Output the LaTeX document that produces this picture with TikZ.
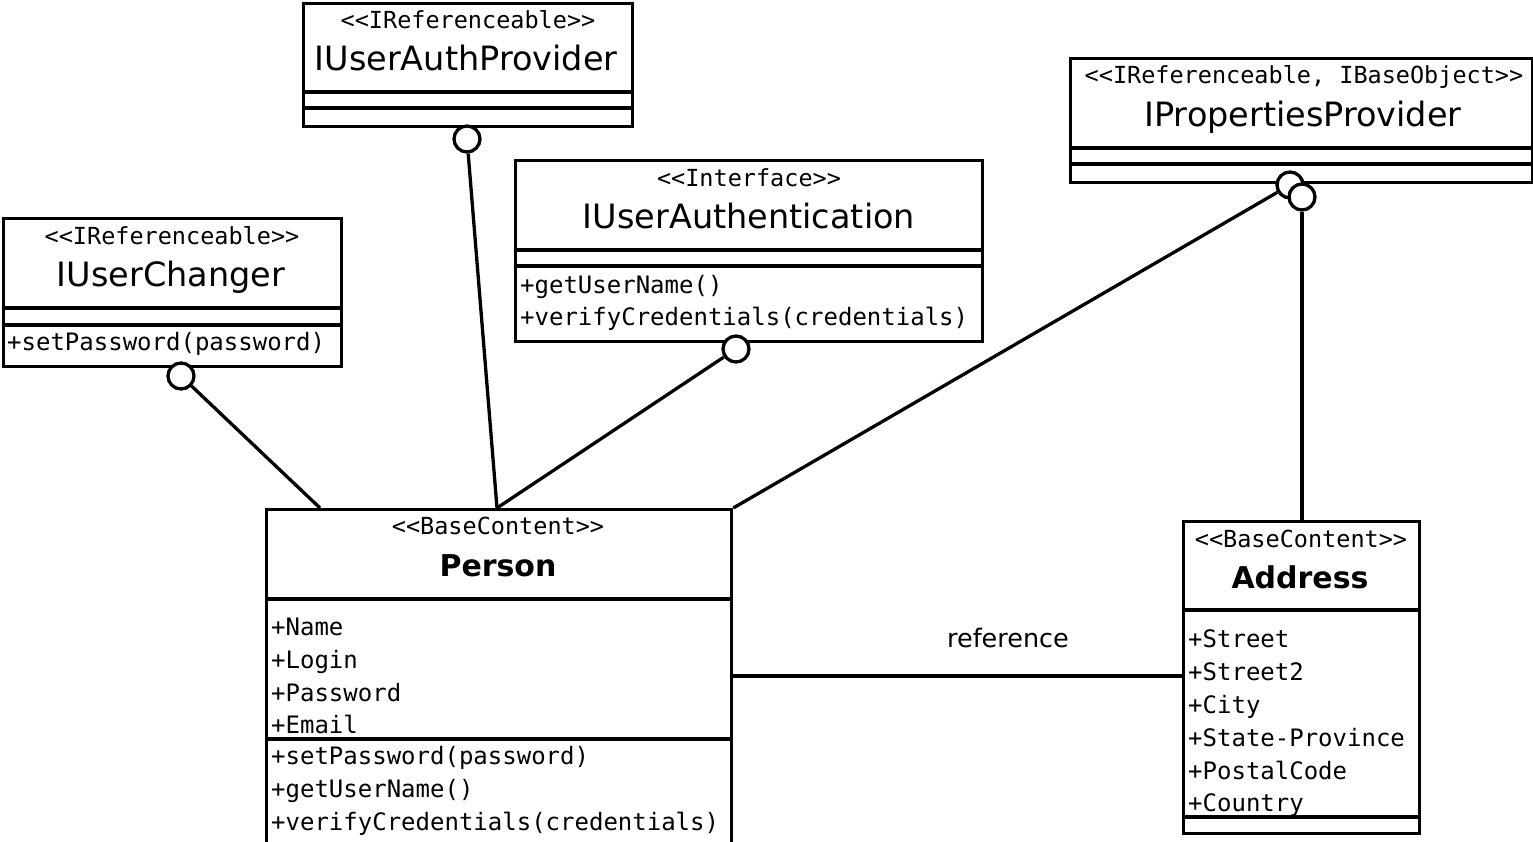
\documentclass[tikz,border=0pt]{standalone}
\usepackage{fontspec}
\newfontfamily\titlef{DejaVu Sans}
\newfontfamily\monof{DejaVu Sans Mono}
\begin{document}
\begin{tikzpicture}[x=1pt,y=-1pt,
  box/.style={draw, line width=3.3pt, inner sep=0pt, anchor=north west},
  sep/.style={line width=3.3pt},
  conn/.style={line width=3.3pt},
  lolli/.style={circle, draw, fill=white, line width=3.3pt, minimum size=26pt, inner sep=0pt},
  txt/.style={inner sep=0pt, text depth=0pt},
  stereo/.style={txt, text height=17.1pt, font=\monof\fontsize{23.5}{23.5}\selectfont},
  title/.style={txt, text height=24.4pt, font=\titlef\fontsize{33.5}{33.5}\selectfont},
  btitle/.style={txt, text height=21.9pt, font=\titlef\bfseries\fontsize{30}{30}\selectfont},
  member/.style={txt, text height=17.5pt, anchor=west, font=\monof\fontsize{24}{24}\selectfont},
  lbl/.style={txt, text height=18.6pt, font=\titlef\fontsize{25.5}{25.5}\selectfont}]
\useasboundingbox (0,0) rectangle (1533,842);
\clip (0,0) rectangle (1533,842);

% ---- boxes
\node[box, minimum width=329pt, minimum height=123pt] (uap) at (302,2) {};
\node[box, minimum width=338pt, minimum height=148pt] (uc) at (2,217) {};
\node[box, minimum width=467pt, minimum height=181pt] (ua) at (514,159) {};
\node[box, minimum width=462pt, minimum height=124pt] (pp) at (1069,57) {};
\node[box, minimum width=465pt, minimum height=352pt] (person) at (265,508) {};
\node[box, minimum width=236pt, minimum height=312pt] (addr) at (1182,520) {};

% ---- compartment lines
\foreach \b/\d in {uap/90, uap/106, uc/91, uc/108, ua/91, ua/107, pp/91, pp/107, person/91, person/231, addr/90, addr/297}{
  \draw[sep] ([yshift=-\d pt]\b.north west) -- ([yshift=-\d pt]\b.north east);
}

% ---- texts
\node[stereo] (uap-s) at (468,20) {<<IReferenceable>>};
\node[title] (uap-t) at (466,58) {IUserAuthProvider};

\node[stereo] (uc-s) at (172,236) {<<IReferenceable>>};
\node[title] (uc-t) at (171,274) {IUserChanger};
\node[member] (uc-m1) at (7,342) {+setPassword(password)};

\node[stereo] (ua-s) at (749,178) {<<Interface>>};
\node[title] (ua-t) at (749,216) {IUserAuthentication};
\node[member] (ua-m1) at (520,285) {+getUserName()};
\node[member] (ua-m2) at (520,317) {+verifyCredentials(credentials)};

\node[stereo] (pp-s) at (1304,75) {<<IReferenceable, IBaseObject>>};
\node[title] (pp-t) at (1303,114) {IPropertiesProvider};

\node[stereo] (person-s) at (498,526) {<<BaseContent>>};
\node[btitle] (person-t) at (498,566) {Person};
\node[member] (person-a1) at (271,627) {+Name};
\node[member] (person-a2) at (271,660) {+Login};
\node[member] (person-a3) at (271,693) {+Password};
\node[member] (person-a4) at (271,725) {+Email};
\node[member] (person-m1) at (271,756) {+setPassword(password)};
\node[member] (person-m2) at (271,789) {+getUserName()};
\node[member] (person-m3) at (271,822) {+verifyCredentials(credentials)};

\node[stereo] (addr-s) at (1301,539) {<<BaseContent>>};
\node[btitle] (addr-t) at (1300,578) {Address};
\node[member] (addr-a1) at (1188,639) {+Street};
\node[member] (addr-a2) at (1188,672) {+Street2};
\node[member] (addr-a3) at (1188,705) {+City};
\node[member] (addr-a4) at (1188,738) {+State-Province};
\node[member] (addr-a5) at (1188,771) {+PostalCode};
\node[member] (addr-a6) at (1188,803) {+Country};

% ---- lollipops
\node[lolli] (c-uap) at (467,139) {};
\node[lolli] (c-uc) at (181,376) {};
\node[lolli] (c-ua) at (736,349) {};
\node[lolli] (c-pp1) at (1290,185) {};
\node[lolli] (c-pp2) at (1302,197) {};

% ---- attachment points
\coordinate (pA) at ([xshift=55pt]person.north west);
\coordinate (pB) at ([xshift=232pt]person.north west);
\coordinate (aT) at ([xshift=120pt]addr.north west);

% ---- connectors
\draw[conn] (c-uc) -- (pA);
\draw[conn] (c-uap) -- (pB);
\draw[conn] (c-ua) -- (pB);
\draw[conn] (c-pp1) -- (person.north east);
\draw[conn] (c-pp2) -- (aT);
\draw[conn] ([yshift=-168pt]person.north east) coordinate (rA) -- (rA -| addr.west) coordinate (rB);
\node[lbl] (reflbl) at (1008,638) {reference};
\end{tikzpicture}
\end{document}
